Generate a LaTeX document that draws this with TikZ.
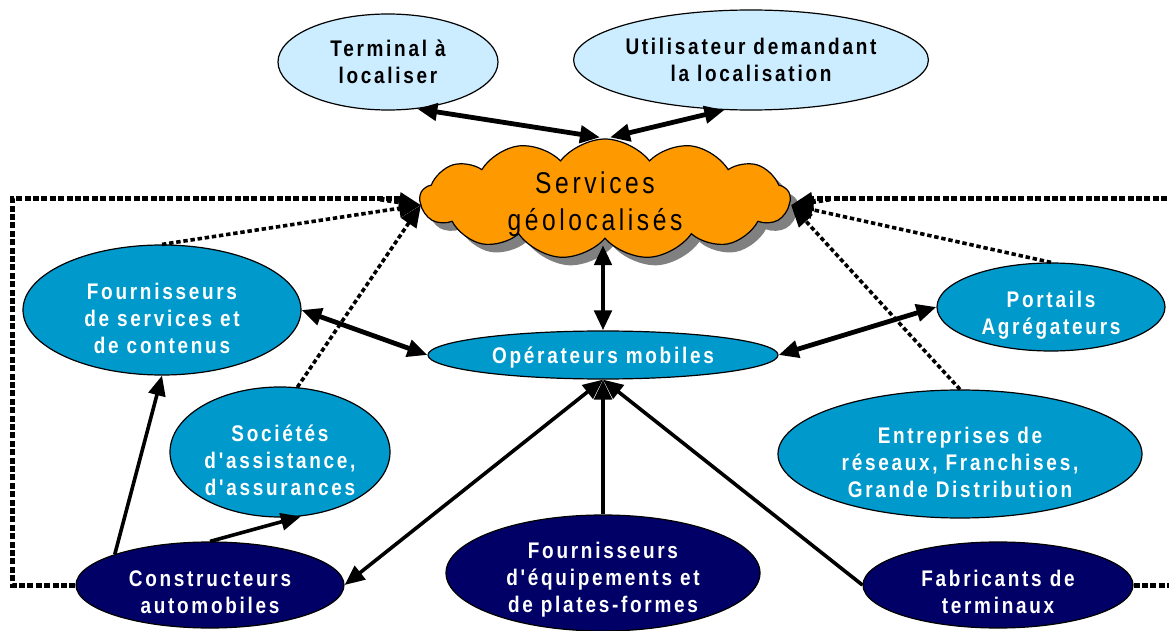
\documentclass[tikz,border=0pt]{standalone}
\usepackage{fontspec}
\setmainfont{Liberation Sans}
\newfontfamily\labfont{Liberation Sans}[FakeStretch=0.84,LetterSpace=12]
\newfontfamily\cloudfont{Liberation Sans}[FakeStretch=0.82,LetterSpace=12]
\usetikzlibrary{shapes.geometric,shapes.symbols,arrows.meta,shadows,calc}

\definecolor{paleblue}{RGB}{204,236,255}
\definecolor{midblue}{RGB}{0,153,204}
\definecolor{navyblue}{RGB}{0,0,102}
\definecolor{cloudorange}{RGB}{255,153,0}
\definecolor{shadowgray}{RGB}{128,128,128}

\tikzset{
  x=0.5pt, y=-0.5pt,
  labtext/.style={align=center, inner sep=0pt, font=\labfont\bfseries\fontsize{11.3}{13.5}\selectfont},
  oval/.style={ellipse, draw=black, line width=0.6pt, inner sep=0pt},
  topoval/.style={oval, fill=paleblue, labtext, text=black},
  % white captions sit a little below the centre of their ellipse
  midoval/.style={oval, fill=midblue,
    label={[labtext, text=white, yshift=-4pt]center:#1}},
  darkoval/.style={oval, fill=navyblue,
    label={[labtext, text=white, yshift=-3.5pt]center:#1}},
  tip/.style={-{Triangle[length=10pt,width=8.5pt]}},
  bothtip/.style={{Triangle[length=10pt,width=8.5pt]}-{Triangle[length=10pt,width=8.5pt]}},
  heavy/.style={line width=2.4pt},
  light/.style={line width=1.8pt},
  framedots/.style={line width=2.5pt, dash pattern=on 3pt off 1.2pt},
  linkdots/.style={line width=1.8pt, dash pattern=on 2.2pt off 1.4pt,
    -{Triangle[length=11pt,width=9pt]}},
}

\begin{document}
\begin{tikzpicture}
\useasboundingbox (0,0) rectangle (1169,631);

% central cloud with its grey shadow
\node[cloud, cloud puffs=13, cloud puff arc=105, aspect=3.1,
      minimum width=185pt, minimum height=60pt, inner sep=0pt,
      fill=cloudorange, draw=black, line width=0.6pt,
      drop shadow={shadow xshift=4pt, shadow yshift=-4pt, fill=shadowgray, opacity=1},
      label={[align=center, xshift=-5pt, yshift=-2.5pt,
              font=\cloudfont\fontsize{15}{18.5}\selectfont]center:Services\\g\'eolocalis\'es}]
  (cloud) at (605,199) {};

% top ellipses
\node[topoval, minimum width=110pt, minimum height=48pt] (term) at (388,62) {Terminal \`a\\localiser};
\node[topoval, minimum width=169pt, minimum height=50pt] (user) at (751,60) {Utilisateur demandant\\la localisation};

% middle ring of actors
\node[oval, fill=midblue, minimum width=175pt, minimum height=24pt,
      label={[labtext, text=white, yshift=-1.5pt]center:Op\'erateurs mobiles}] (op) at (603,355) {};
\node[midoval={Fournisseurs\\de services et\\de contenus}, minimum width=139pt, minimum height=65pt] (fsc) at (162,310) {};
\node[midoval={Portails\\Agr\'egateurs}, minimum width=114pt, minimum height=44pt] (port) at (1051,307) {};
\node[midoval={Soci\'et\'es\\d'assistance,\\d'assurances}, minimum width=110pt, minimum height=65pt] (soc) at (280,452) {};
\node[midoval={Entreprises de\\r\'eseaux, Franchises,\\Grande Distribution}, minimum width=182pt, minimum height=64pt] (ent) at (960,454) {};

% bottom row
\node[darkoval={Constructeurs\\automobiles}, minimum width=134pt, minimum height=43pt] (cons) at (210,585) {};
\node[darkoval={Fournisseurs\\d'\'equipements et\\de plates-formes}, minimum width=157pt, minimum height=58pt] (feq) at (603,573) {};
\node[darkoval={Fabricants de\\terminaux}, minimum width=135pt, minimum height=43pt] (fab) at (998,585) {};

% arrow ends on the cloud
\coordinate (cl) at ($(cloud.west)+(2,6)$);
\coordinate (cr) at ($(cloud.east)+(0,6)$);

% dotted frame feeding the cloud from both sides
\draw[framedots] (cons.west) -- (12,585) -- (12,199) -- (400,199);
\draw[framedots] (fab.east) -- (1180,585) -- (1180,199) -- (812,199);

% dotted links to the cloud
\draw[linkdots] (fsc.north) -- (cl);
\draw[linkdots] (soc.75) -- (cl);
\draw[linkdots] (port.north) -- (cr);
\draw[linkdots] (ent.north) -- (cr);
\draw[linkdots, line width=2.5pt] (380,199) -- (cl);
\draw[linkdots, line width=2.5pt] (830,199) -- (cr);

% solid links
\draw[heavy, bothtip] (term.-58) -- ($(cloud.north)+(-5,-1)$);
\draw[heavy, bothtip] (user.-118) -- ($(cloud.north)+(5,-1)$);
\draw[heavy, bothtip] ($(cloud.south)+(-2,6)$) -- (op.north);
\draw[heavy, bothtip] (fsc.east) -- (op.west);
\draw[heavy, bothtip] (port.west) -- (op.east);
\draw[light, bothtip] (op.south) -- (cons.east);
\draw[heavy, tip] (feq.north) -- (op.south);
\draw[light, tip] (fab.west) -- (op.south);
\draw[light, tip] (cons.north west) -- (fsc.south);
\draw[light, tip] (cons.north) -- (soc.-72);
\end{tikzpicture}
\end{document}
